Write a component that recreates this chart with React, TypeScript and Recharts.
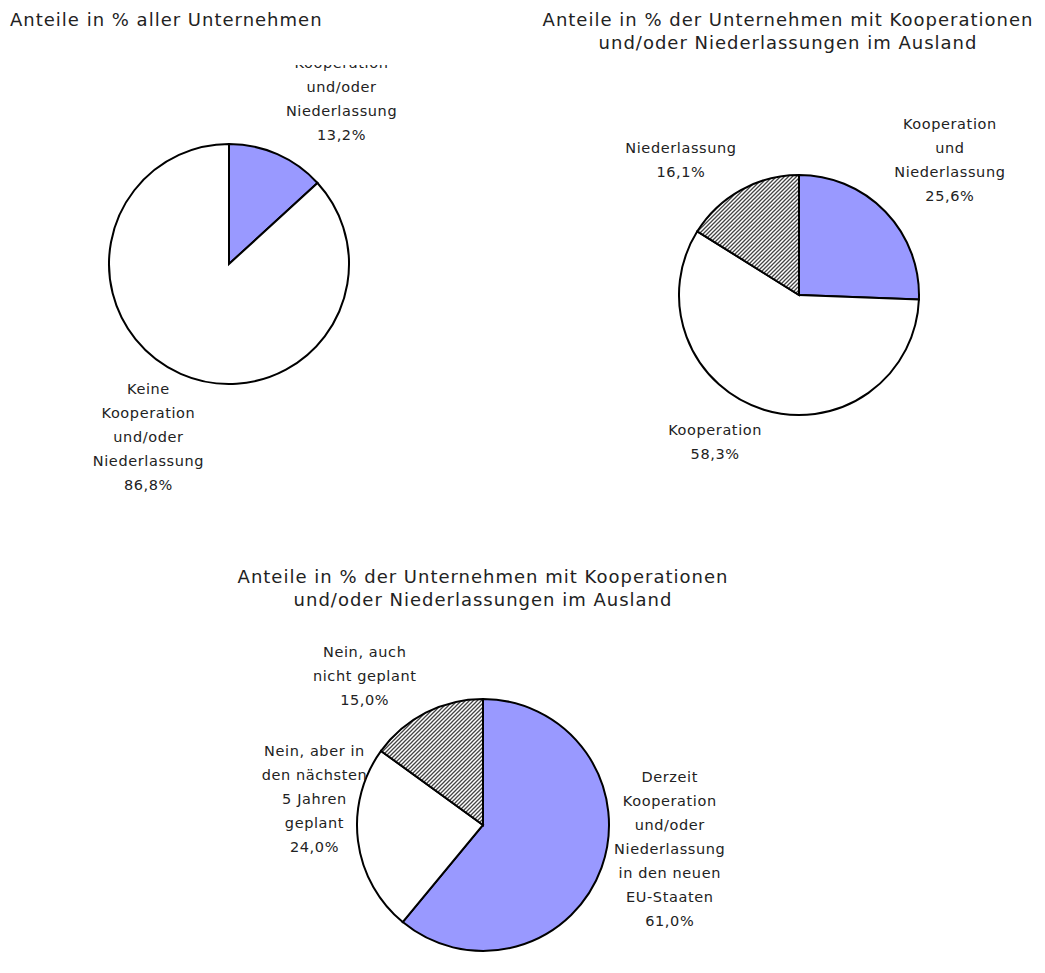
import React from 'react';
import { PieChart, Pie, Cell } from 'recharts';

// ---- Data ----
const chart1Names = ['Kooperation\nund/oder\nNiederlassung', 'Keine\nKooperation\nund/oder\nNiederlassung'];
const chart1Values = [13.2, 86.8];

const chart2Names = ['Kooperation\nund\nNiederlassung', 'Kooperation', 'Niederlassung'];
const chart2Values = [25.6, 58.3, 16.1];

const chart3Names = [
  'Derzeit\nKooperation\nund/oder\nNiederlassung\nin den neuen\nEU-Staaten',
  'Nein, aber in\nden nächsten\n5 Jahren\ngeplant',
  'Nein, auch\nnicht geplant',
];
const chart3Values = [61.0, 24.0, 15.0];

const title1 = ['Anteile in % aller Unternehmen'];
const title2 = ['Anteile in % der Unternehmen mit Kooperationen', 'und/oder Niederlassungen im Ausland'];
const title3 = ['Anteile in % der Unternehmen mit Kooperationen', 'und/oder Niederlassungen im Ausland'];

// ---- Styles ----
const FONT = '"DejaVu Sans", sans-serif';
const TEXT = '#222';
const BLUE = '#9999FF';
const fills1 = [BLUE, '#FFFFFF'];
const fills2 = [BLUE, '#FFFFFF', 'url(#hatch)'];
const fills3 = [BLUE, '#FFFFFF', 'url(#hatch)'];
const MARGIN = { top: 0, right: 0, bottom: 0, left: 0 };

// label placement nudges (relative to a radial anchor)
const LABEL_DIST = 190;
const nudges1 = [
  { dx: 36, dy: 9 },
  { dx: -4, dy: -1 },
];
const nudges2 = [
  { dx: 14, dy: -3 },
  { dx: -28, dy: -35 },
  { dx: -26, dy: 31 },
];
const nudges3 = [
  { dx: 8, dy: -40 },
  { dx: 20, dy: -50 },
  { dx: -32, dy: 20 },
];

const fmt = (v: number) => v.toFixed(1).replace('.', ',') + '%';

const makeData = (names: string[], values: number[]) =>
  names.map((n, i) => ({ name: n, value: values[i] }));

const makeLabel = (nudges: { dx: number; dy: number }[]) => (props: any) => {
  const { cx, cy, midAngle, index, name, value } = props;
  const rad = (midAngle * Math.PI) / 180;
  const x = cx + LABEL_DIST * Math.cos(rad) + nudges[index].dx;
  const y = cy - LABEL_DIST * Math.sin(rad) + nudges[index].dy;
  const lines = [...String(name).split('\n'), fmt(value)];
  const lh = 24;
  const y0 = y - ((lines.length - 1) * lh) / 2;
  return (
    <text
      key={`l-${index}`}
      x={x}
      y={y0}
      textAnchor="middle"
      dominantBaseline="central"
      fontFamily={FONT}
      fontSize={14.5}
      letterSpacing={0.6}
      fill={TEXT}
    >
      {lines.map((l, i) => (
        <tspan key={i} x={x} y={y0 + i * lh}>
          {l}
        </tspan>
      ))}
    </text>
  );
};

const Title = ({ lines, style }: { lines: string[]; style: React.CSSProperties }) => (
  <div
    style={{
      position: 'absolute',
      fontFamily: FONT,
      fontSize: 18,
      letterSpacing: 1,
      lineHeight: '23px',
      color: TEXT,
      whiteSpace: 'nowrap',
      ...style,
    }}
  >
    {lines.map((l, i) => (
      <div key={i}>{l}</div>
    ))}
  </div>
);

export default function App() {
  const d1 = makeData(chart1Names, chart1Values);
  const d2 = makeData(chart2Names, chart2Values);
  const d3 = makeData(chart3Names, chart3Values);
  return (
    <div style={{ position: 'absolute', left: 0, top: 0, width: 1045, height: 973, background: '#fff', overflow: 'hidden' }}>
      <svg width={0} height={0} style={{ position: 'absolute' }}>
        <defs>
          <pattern id="hatch" patternUnits="userSpaceOnUse" width={4} height={4}>
            <rect width={4} height={4} fill="#fff" />
            <path d="M-1,1 l2,-2 M0,4 l4,-4 M3,5 l2,-2" stroke="#444" strokeWidth={1.3} />
          </pattern>
        </defs>
      </svg>

      <Title lines={title1} style={{ left: 10, top: 8, textAlign: 'left' }} />
      <Title lines={title2} style={{ left: 520, width: 536, top: 8, textAlign: 'center' }} />
      <Title lines={title3} style={{ left: 0, width: 966, top: 565, textAlign: 'center' }} />

      <div style={{ position: 'absolute', left: 0, top: 65 }}>
        <PieChart width={520} height={450} margin={MARGIN}>
          <Pie
            data={d1}
            dataKey="value"
            nameKey="name"
            cx={229}
            cy={199}
            outerRadius={120}
            startAngle={90}
            endAngle={-270}
            stroke="#000"
            strokeWidth={2}
            labelLine={false}
            label={makeLabel(nudges1)}
            isAnimationActive={false}
          >
            {d1.map((_, i) => (
              <Cell key={i} fill={fills1[i]} />
            ))}
          </Pie>
        </PieChart>
      </div>

      <div style={{ position: 'absolute', left: 520, top: 65 }}>
        <PieChart width={525} height={450} margin={MARGIN}>
          <Pie
            data={d2}
            dataKey="value"
            nameKey="name"
            cx={279}
            cy={230}
            outerRadius={120}
            startAngle={90}
            endAngle={-270}
            stroke="#000"
            strokeWidth={2}
            labelLine={false}
            label={makeLabel(nudges2)}
            isAnimationActive={false}
          >
            {d2.map((_, i) => (
              <Cell key={i} fill={fills2[i]} />
            ))}
          </Pie>
        </PieChart>
      </div>

      <div style={{ position: 'absolute', left: 0, top: 610 }}>
        <PieChart width={1045} height={363} margin={MARGIN}>
          <Pie
            data={d3}
            dataKey="value"
            nameKey="name"
            cx={483}
            cy={215}
            outerRadius={126}
            startAngle={90}
            endAngle={-270}
            stroke="#000"
            strokeWidth={2}
            labelLine={false}
            label={makeLabel(nudges3)}
            isAnimationActive={false}
          >
            {d3.map((_, i) => (
              <Cell key={i} fill={fills3[i]} />
            ))}
          </Pie>
        </PieChart>
      </div>
    </div>
  );
}
